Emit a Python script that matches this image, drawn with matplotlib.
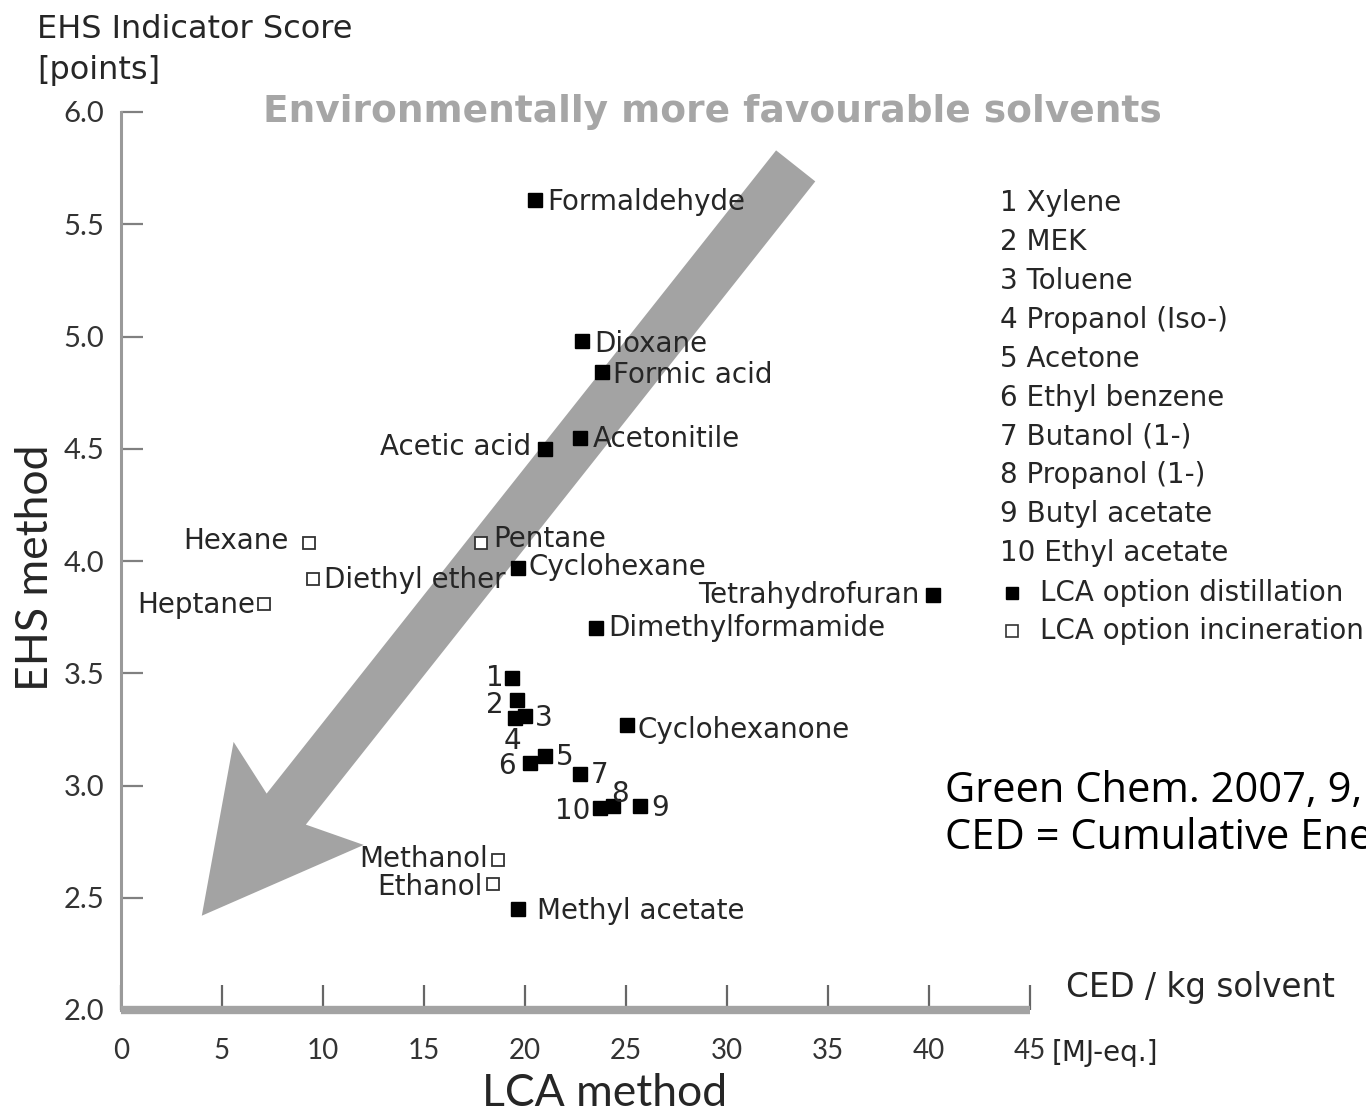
import matplotlib
matplotlib.use("Agg")
import matplotlib.pyplot as plt
import numpy as np
from matplotlib.patches import Polygon

# ---------------- data ----------------
solvents = ["Formaldehyde", "Dioxane", "Formic acid", "Acetonitile", "Acetic acid",
            "Pentane", "Cyclohexane", "Hexane", "Diethyl ether", "Heptane",
            "Tetrahydrofuran", "Dimethylformamide", "Cyclohexanone",
            "1", "2", "3", "4", "5", "6", "7", "8", "9", "10",
            "Methanol", "Ethanol", "Methyl acetate"]
ced = [20.5, 22.8, 23.8, 22.7, 21.0,
       17.8, 19.65, 9.3, 9.5, 7.1,
       40.2, 23.5, 25.05,
       19.35, 19.6, 20.0, 19.5, 21.0, 20.25, 22.7, 24.35, 25.7, 23.7,
       18.65, 18.4, 19.65]
ehs = [5.61, 4.98, 4.84, 4.55, 4.50,
       4.08, 3.97, 4.08, 3.92, 3.81,
       3.85, 3.70, 3.27,
       3.48, 3.38, 3.31, 3.30, 3.13, 3.10, 3.05, 2.91, 2.91, 2.90,
       2.67, 2.56, 2.45]
option = ["distillation"] * 5 + ["incineration", "distillation", "incineration",
          "incineration", "incineration"] + ["distillation"] * 13 + \
         ["incineration", "incineration", "distillation"]

legend_numbers = ["1 Xylene", "2 MEK", "3 Toluene", "4 Propanol (Iso-)", "5 Acetone",
                  "6 Ethyl benzene", "7 Butanol (1-)", "8 Propanol (1-)",
                  "9 Butyl acetate", "10 Ethyl acetate"]
legend_options = ["LCA option distillation", "LCA option incineration"]

x_ticks = [0, 5, 10, 15, 20, 25, 30, 35, 40, 45]
y_ticks = [2.0, 2.5, 3.0, 3.5, 4.0, 4.5, 5.0, 5.5, 6.0]

# label placement (offset in pixels, horizontal alignment)
label_pos = {
    "Formaldehyde": (12, -2, "left"), "Dioxane": (13, -3, "left"),
    "Formic acid": (11, -3, "left"), "Acetonitile": (13, -1, "left"),
    "Acetic acid": (-14, 2, "right"), "Pentane": (13, 4, "left"),
    "Cyclohexane": (11, 1, "left"), "Hexane": (-20, 2, "right"),
    "Diethyl ether": (11, -1, "left"), "Heptane": (-9, -1, "right"),
    "Tetrahydrofuran": (-14, 0, "right"), "Dimethylformamide": (13, 0, "left"),
    "Cyclohexanone": (10, -5, "left"),
    "1": (-8, 0, "right"), "2": (-13, -5, "right"), "3": (10, -2, "left"),
    "4": (-2, -23, "center"), "5": (11, -1, "left"), "6": (-14, -3, "right"),
    "7": (11, -1, "left"), "8": (7, 12, "center"), "9": (11, -2, "left"),
    "10": (-9, -3, "right"),
    "Methanol": (-10, 1, "right"), "Ethanol": (-10, -3, "right"),
    "Methyl acetate": (19, -2, "left"),
}

# ---------------- figure ----------------
W, H = 1366, 1118
fig = plt.figure(figsize=(W / 100, H / 100), dpi=100)
FONT = "DejaVu Sans"
TICKFONT = "Lato"
TXT = "#262626"

ax = fig.add_axes([121 / W, 1 - 1010 / H, (1030 - 121) / W, (1010 - 112) / H])
ax.set_xlim(0, 45)
ax.set_ylim(2.0, 6.0)

for s in ["top", "right"]:
    ax.spines[s].set_visible(False)
ax.spines["bottom"].set_color("#a3a3a3")
ax.spines["bottom"].set_linewidth(6)
ax.spines["bottom"].set_capstyle("butt")
ax.spines["left"].set_color("#9a9a9a")
ax.spines["left"].set_linewidth(2.2)

ax.set_xticks(x_ticks)
ax.set_xticklabels([str(v) for v in x_ticks], fontfamily=TICKFONT, fontsize=20, color="#333333")
ax.set_yticks(y_ticks)
ax.set_yticklabels([f"{v:.1f}" for v in y_ticks], fontfamily=TICKFONT, fontsize=21, color="#333333")
ax.tick_params(axis="x", direction="in", length=18, width=1.6, color="#666666", pad=20)
ax.tick_params(axis="y", direction="in", length=16, width=1.6, color="#808080", pad=12)

# Big arrow (swept-back head) drawn in display space then mapped back to data
fig.canvas.draw()
tip = ax.transData.transform((4.0, 2.42))
tail = ax.transData.transform((33.4, 5.76))
u = (tail - tip) / np.hypot(*(tail - tip))
n = np.array([-u[1], u[0]])
half_shaft, head_back, notch_back, half_head = 25, 156, 136, 83
pts_disp = [tip,
            tip + u * head_back + n * half_head,
            tip + u * notch_back + n * half_shaft,
            tail + n * half_shaft,
            tail - n * half_shaft,
            tip + u * notch_back - n * half_shaft,
            tip + u * head_back - n * half_head]
pts_data = ax.transData.inverted().transform(np.array(pts_disp))
ax.add_patch(Polygon(pts_data, closed=True, facecolor="#a3a3a3", edgecolor="none", zorder=1))

# Points
for name, x, y, opt in zip(solvents, ced, ehs, option):
    if opt == "distillation":
        ax.plot(x, y, "s", ms=10, color="black", zorder=3)
    else:
        ax.plot(x, y, "s", ms=8, mfc="white", mec="#333333", mew=1.3, zorder=3)
    dx, dy, ha = label_pos[name]
    ax.annotate(name, (x, y), xytext=(dx, dy), textcoords="offset pixels",
                ha=ha, va="center", fontfamily=FONT, fontsize=20, color=TXT, zorder=4)

# Title inside plot
fig.text(712 / W, 1 - 112 / H, "Environmentally more favourable solvents",
         ha="center", va="center", fontfamily=FONT, fontweight="bold",
         fontsize=27, color="#a6a6a6")

# Axis captions
fig.text(37 / W, 1 - 29 / H, "EHS Indicator Score", ha="left", va="center",
         fontfamily=FONT, fontsize=23, color=TXT)
fig.text(37 / W, 1 - 70 / H, "[points]", ha="left", va="center",
         fontfamily=FONT, fontsize=23, color=TXT)
fig.text(36 / W, 1 - 568 / H, "EHS method", rotation=90, ha="center", va="center",
         fontfamily=TICKFONT, fontsize=32, color=TXT)
fig.text(605 / W, 1 - 1093 / H, "LCA method", ha="center", va="center",
         fontfamily=TICKFONT, fontsize=32, color=TXT)
fig.text(1066 / W, 1 - 987 / H, "CED / kg solvent", ha="left", va="center",
         fontfamily=FONT, fontsize=23.5, color=TXT)
fig.text(1052 / W, 1 - 1053 / H, "[MJ-eq.]", ha="left", va="center",
         fontfamily=FONT, fontsize=20, color=TXT)

# Legend list on right
for i, t in enumerate(legend_numbers):
    fig.text(1000 / W, 1 - (203 + 38.9 * i) / H, t, ha="left", va="center",
             fontfamily=FONT, fontsize=20, color=TXT)
leg_y = [593, 631]
for i, t in enumerate(legend_options):
    yy = 1 - leg_y[i] / H
    if i == 0:
        fig.lines.append(plt.Line2D([1012 / W], [yy], marker="s", ms=9, color="black",
                                    transform=fig.transFigure))
    else:
        fig.lines.append(plt.Line2D([1012 / W], [yy], marker="s", ms=8, mfc="white",
                                    mec="#333333", mew=1.2, transform=fig.transFigure))
    fig.text(1040 / W, yy, t, ha="left", va="center", fontfamily=FONT,
             fontsize=20, color=TXT)

# Reference note (runs off the right edge, as in the original slide)
fig.text(945 / W, 1 - 802 / H, "Green Chem. 2007, 9, 927-934", ha="left",
         va="baseline", fontfamily="Open Sans", fontsize=30, color="black")
fig.text(945 / W, 1 - 849 / H, "CED = Cumulative Energy Demand", ha="left",
         va="baseline", fontfamily="Open Sans", fontsize=30, color="black")

fig.savefig("out.png", dpi=100)
